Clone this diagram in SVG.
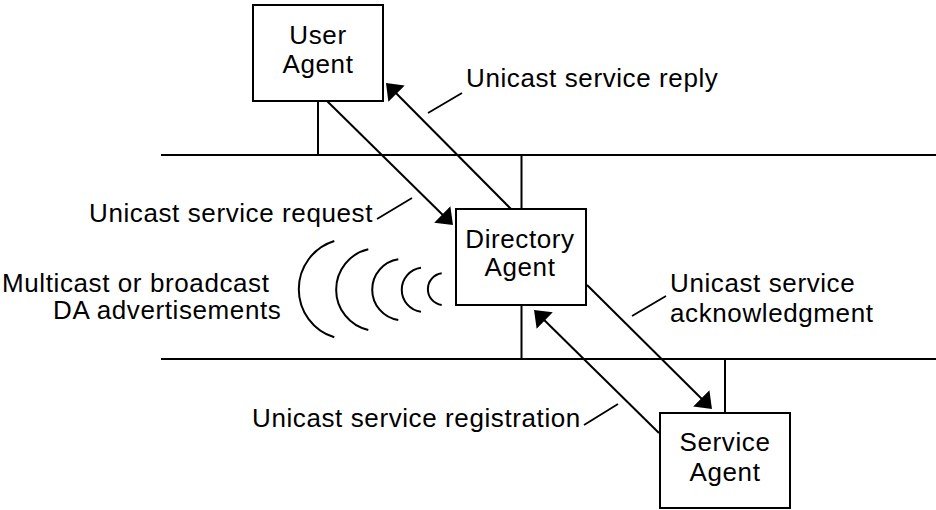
<svg xmlns="http://www.w3.org/2000/svg" width="936" height="510" viewBox="0 0 936 510">
<style>
  .box { fill: #ffffff; stroke: #000000; stroke-width: 2; }
  .ln { fill: none; stroke: #000000; stroke-width: 2; }
  .thin { fill: none; stroke: #000000; stroke-width: 1.8; }
  .arr { fill: none; stroke: #000000; stroke-width: 2; marker-end: url(#head); }
  text { font-family: "Liberation Sans", Arial, Helvetica, sans-serif; font-size: 26px; fill: #000000; letter-spacing: 0.6px; }
  .c { text-anchor: middle; }
</style>
<defs>
  <marker id="head" markerUnits="userSpaceOnUse" markerWidth="17" markerHeight="24" refX="9" refY="11.5" orient="auto" viewBox="0 0 17 24">
    <path d="M0,0 L15,11.5 L0,23 z" fill="#000000"/>
  </marker>
</defs>
<rect width="936" height="510" fill="#ffffff"/>

<g id="networks">
  <line class="ln" x1="161" y1="155" x2="936" y2="155"/>
  <line class="ln" x1="161" y1="359" x2="936" y2="359"/>
  <line class="ln" x1="318" y1="101" x2="318" y2="155"/>
  <line class="ln" x1="521.5" y1="155" x2="521.5" y2="209"/>
  <line class="ln" x1="521.5" y1="305" x2="521.5" y2="359"/>
  <line class="ln" x1="725" y1="359" x2="725" y2="413"/>
</g>

<g id="user-agent">
  <rect class="box" x="253" y="5" width="130" height="96"/>
  <text class="c" x="318" y="44">User</text>
  <text class="c" x="318" y="73">Agent</text>
</g>

<g id="directory-agent">
  <rect class="box" x="456" y="209" width="130" height="96"/>
  <text class="c" x="520" y="248">Directory</text>
  <text class="c" x="520" y="276">Agent</text>
</g>

<g id="service-agent">
  <rect class="box" x="660" y="413" width="130" height="95"/>
  <text class="c" x="725" y="451">Service</text>
  <text class="c" x="725" y="481">Agent</text>
</g>

<g id="connectors">
  <line class="arr" x1="327" y1="101" x2="448.7" y2="220.8"/>
  <line class="arr" x1="511" y1="209" x2="390.2" y2="87.3"/>
  <line class="arr" x1="587" y1="285" x2="707.7" y2="404.8"/>
  <line class="arr" x1="659" y1="433" x2="538.3" y2="314.2"/>
  <line class="thin" x1="428" y1="113" x2="462" y2="93"/>
  <line class="thin" x1="377" y1="219" x2="412" y2="198"/>
  <line class="thin" x1="632" y1="316" x2="666" y2="296"/>
  <line class="thin" x1="584" y1="425" x2="618" y2="404"/>
</g>

<g id="broadcast-waves">
  <path class="ln" d="M334.3,241 A50.4,50.4 0 0 0 334.3,337.3"/>
  <path class="ln" d="M368.3,249.3 A41.4,41.4 0 0 0 368.3,330"/>
  <path class="ln" d="M398.3,259.3 A30.7,30.7 0 0 0 398.3,320"/>
  <path class="ln" d="M421,267.7 A22.2,22.2 0 0 0 421,311.7"/>
  <path class="ln" d="M441.7,273.3 A16,16 0 0 0 441.7,305"/>
</g>

<g id="labels">
  <text x="466" y="87">Unicast service reply</text>
  <text x="89" y="222">Unicast service request</text>
  <text x="2" y="292">Multicast or broadcast</text>
  <text x="53" y="319">DA advertisements</text>
  <text x="670" y="292">Unicast service</text>
  <text x="670" y="322">acknowledgment</text>
  <text x="252" y="427">Unicast service registration</text>
</g>
</svg>
